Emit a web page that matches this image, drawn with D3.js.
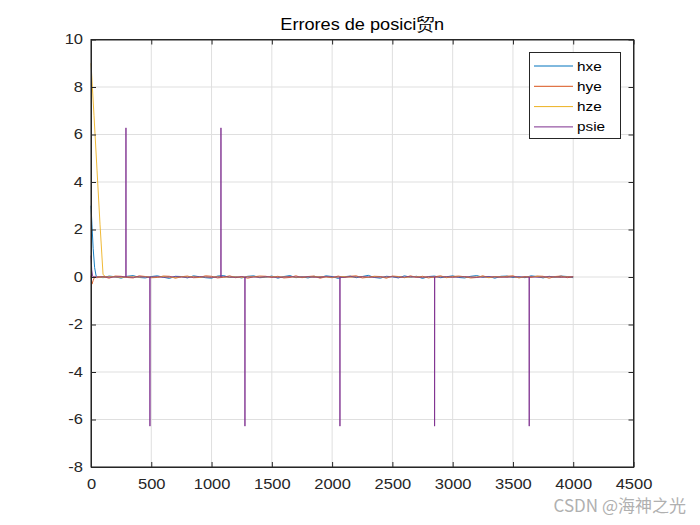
<!DOCTYPE html>
<html><head><meta charset="utf-8">
<script src="https://cdn.jsdelivr.net/npm/d3@7"></script>
<style>body{margin:0;background:#fff}svg{display:block}</style>
</head><body>
<svg id="c" width="700" height="525"></svg>
<script>
const title = "Errores de posici贸n";
const seriesNames = ["hxe","hye","hze","psie"];
const xTicks = [0,500,1000,1500,2000,2500,3000,3500,4000,4500];
const yTicks = [-8,-6,-4,-2,0,2,4,6,8,10];
const sampleStep = 50; // noise samples at x = 50, 100, ..., 4000

// initial transients [x, y]
const hxeStart = [[0,3.0],[8,2.2],[18,1.2],[30,0.4],[42,0.05]];
const hyeStart = [[0,0.05],[8,-0.3],[18,-0.15],[32,0.03],[42,-0.02]];
const hzeStart = [[0,9.0],[25,6.8],[50,4.5],[75,2.2],[100,0.1],[120,0.02]];
const psieStart = [[0,0.9],[6,0.3],[14,0.02],[30,0.0]];

const hxeNoise = [0.02,-0.03,0.04,0.01,-0.05,0.03,0.06,-0.02,-0.04,0.02,
 0.05,-0.01,-0.06,0.03,0.02,-0.04,0.05,0.01,-0.03,-0.05,
 0.04,0.06,-0.02,0.01,-0.04,0.03,0.05,-0.03,-0.01,0.04,
 -0.05,0.02,0.06,-0.03,0.01,-0.04,0.03,-0.02,0.05,0.02,
 -0.06,0.01,0.04,-0.03,0.02,0.07,-0.02,-0.05,0.03,0.01,
 -0.04,0.05,-0.01,0.03,-0.06,0.02,0.04,-0.03,0.01,0.05,
 -0.02,-0.04,0.03,0.06,-0.01,0.02,-0.05,0.03,0.04,-0.02,
 0.01,-0.03,0.05,0.02,-0.04,0.03,-0.01,0.04,0.02,-0.03];
const hyeNoise = [-0.03,0.02,-0.05,0.04,0.03,-0.02,-0.04,0.05,0.02,-0.03,
 -0.02,0.04,0.03,-0.05,0.01,0.04,-0.03,-0.02,0.05,0.03,
 -0.04,-0.01,0.05,-0.03,0.02,-0.05,0.01,0.04,0.03,-0.02,
 0.03,-0.04,-0.02,0.05,-0.03,0.02,0.04,-0.05,0.01,-0.03,
 0.04,-0.02,0.03,0.05,-0.04,-0.01,0.03,0.02,-0.05,0.04,
 0.02,-0.03,0.05,-0.02,0.03,-0.04,0.01,0.05,-0.03,0.02,
 0.04,0.01,-0.04,-0.02,0.05,-0.03,0.02,-0.01,0.03,0.05,
 -0.04,0.02,-0.02,0.04,0.03,-0.05,0.02,0.04,-0.03,0.01];
const hzeNoise = [0.01,-0.01,0.02,0.00,-0.02,0.01,0.01,-0.01,0.02,-0.01,
 0.00,0.02,-0.01,-0.02,0.01,0.00,0.02,-0.01,0.01,-0.02,
 0.02,0.00,-0.01,0.01,-0.02,0.02,0.01,-0.01,0.00,0.02,
 -0.01,0.01,0.02,-0.02,0.00,0.01,-0.01,0.02,0.01,-0.02,
 0.00,0.02,-0.01,0.01,0.02,-0.02,0.01,0.00,-0.01,0.02,
 0.01,-0.02,0.00,0.02,-0.01,0.01,-0.02,0.02,0.00,-0.01,
 0.02,0.01,-0.01,0.00,0.02,-0.02,0.01,0.01,-0.01,0.02,
 -0.02,0.00,0.01,0.02,-0.01,0.01,0.00,-0.02,0.02,0.01];
const psieNoise = [0.00,0.01,-0.01,0.00,0.01,0.00,-0.01,0.01,0.00,0.00,
 0.01,-0.01,0.00,0.01,0.00,-0.01,0.00,0.01,0.00,-0.01,
 0.00,0.01,0.00,-0.01,0.01,0.00,0.00,-0.01,0.01,0.00,
 -0.01,0.00,0.01,0.00,0.00,0.01,-0.01,0.00,0.01,0.00,
 0.00,-0.01,0.01,0.00,0.01,0.00,-0.01,0.00,0.00,0.01,
 -0.01,0.00,0.01,0.00,-0.01,0.01,0.00,0.00,0.01,-0.01,
 0.00,0.01,0.00,-0.01,0.00,0.01,0.00,0.00,-0.01,0.01,
 0.00,0.00,0.01,-0.01,0.00,0.01,0.00,-0.01,0.00,0.01];
const psieSpikeX = [290,489,1078,1277,2065,2850,3635];
const psieSpikeY = [6.28,-6.28,6.28,-6.28,-6.28,-6.28,-6.28];

const colors = ["#0072BD","#D95319","#EDB120","#7E2F8E"];

function build(start, noise){
  const pts = start.slice();
  noise.forEach((v,i)=>pts.push([(i+1)*sampleStep, v]));
  return pts;
}
const hxe = build(hxeStart, hxeNoise);
const hye = build(hyeStart, hyeNoise);
const hze = build(hzeStart, hzeNoise);
let psie = build(psieStart, psieNoise);
psieSpikeX.forEach((x,i)=>{ psie.push([x-1,0],[x,psieSpikeY[i]],[x+1,0]); });
psie.sort((a,b)=>a[0]-b[0]);
const data = [hxe,hye,hze,psie];

const svg = d3.select("#c");
const L=91, R=633.5, T=39.5, B=467;
const x = d3.scaleLinear().domain([0,4500]).range([L,R]);
const y = d3.scaleLinear().domain([-8,10]).range([B,T]);
const font = "'Liberation Sans', Arial, sans-serif";
const axisCol = "#262626";
const SX = 1.18; // horizontal stretch of text seen in the reference

// grid
const g = svg.append("g");
g.selectAll(".gx").data(xTicks).join("line")
 .attr("x1",d=>x(d)).attr("x2",d=>x(d)).attr("y1",T).attr("y2",B)
 .attr("stroke","#dfdfdf").attr("stroke-width",1);
g.selectAll(".gy").data(yTicks).join("line")
 .attr("y1",d=>y(d)).attr("y2",d=>y(d)).attr("x1",L).attr("x2",R)
 .attr("stroke","#dfdfdf").attr("stroke-width",1);

// lines
const line = d3.line().x(d=>x(d[0])).y(d=>y(d[1]));
data.forEach((s,i)=>{
  svg.append("path").datum(s).attr("d",line).attr("fill","none")
   .attr("stroke",colors[i]).attr("stroke-width",0.9);
});

// axes (inner ticks on all sides)
const tl = 5;
const fmt = d => String(d);
const ax = svg.append("g").attr("transform",`translate(0,${B})`)
  .call(d3.axisBottom(x).tickValues(xTicks).tickSizeInner(-tl).tickSizeOuter(0).tickPadding(12).tickFormat(fmt));
const axT = svg.append("g").attr("transform",`translate(0,${T})`)
  .call(d3.axisTop(x).tickValues(xTicks).tickSizeInner(-tl).tickSizeOuter(0).tickFormat(""));
const ay = svg.append("g").attr("transform",`translate(${L},0)`)
  .call(d3.axisLeft(y).tickValues(yTicks).tickSizeInner(-tl).tickSizeOuter(0).tickPadding(8).tickFormat(fmt));
const ayR = svg.append("g").attr("transform",`translate(${R},0)`)
  .call(d3.axisRight(y).tickValues(yTicks).tickSizeInner(-tl).tickSizeOuter(0).tickFormat(""));
[ax,axT,ay,ayR].forEach(a=>{
  a.select(".domain").attr("stroke",axisCol);
  a.selectAll(".tick line").attr("stroke",axisCol);
  a.selectAll("text").attr("fill",axisCol).style("font-family",font).style("font-size","14px");
});
ax.selectAll("text").attr("dy","0.71em").attr("transform",`scale(${SX},1)`);
ay.selectAll("text").attr("x",-8/SX).attr("transform",`scale(${SX},1)`);
svg.append("rect").attr("x",L).attr("y",T).attr("width",R-L).attr("height",B-T)
 .attr("fill","none").attr("stroke",axisCol).attr("stroke-width",1);

// title
svg.append("text").attr("transform",`translate(${(L+R)/2},30) scale(1.1,1)`).attr("text-anchor","middle")
 .attr("fill","#000").style("font-family",font).style("font-size","16.5px").text(title);

// legend
const lg = svg.append("g");
lg.append("rect").attr("x",529.5).attr("y",52.5).attr("width",91).attr("height",86)
 .attr("fill","#fff").attr("stroke",axisCol).attr("stroke-width",1);
seriesNames.forEach((n,i)=>{
  const yy = 66 + i*20.3;
  lg.append("line").attr("x1",534).attr("x2",573).attr("y1",yy).attr("y2",yy)
   .attr("stroke",colors[i]).attr("stroke-width",1);
  lg.append("text").attr("transform",`translate(577,${yy}) scale(${SX},1)`).attr("dy","0.35em")
   .attr("fill","#000").style("font-family",font).style("font-size","13px").text(n);
});

// watermark
svg.append("text").attr("x",686).attr("y",512).attr("text-anchor","end")
 .attr("fill","#b0b0b0").style("font-family","'Noto Sans CJK SC', sans-serif").style("font-size","17px")
 .text("CSDN @海神之光");
</script>
</body></html>
